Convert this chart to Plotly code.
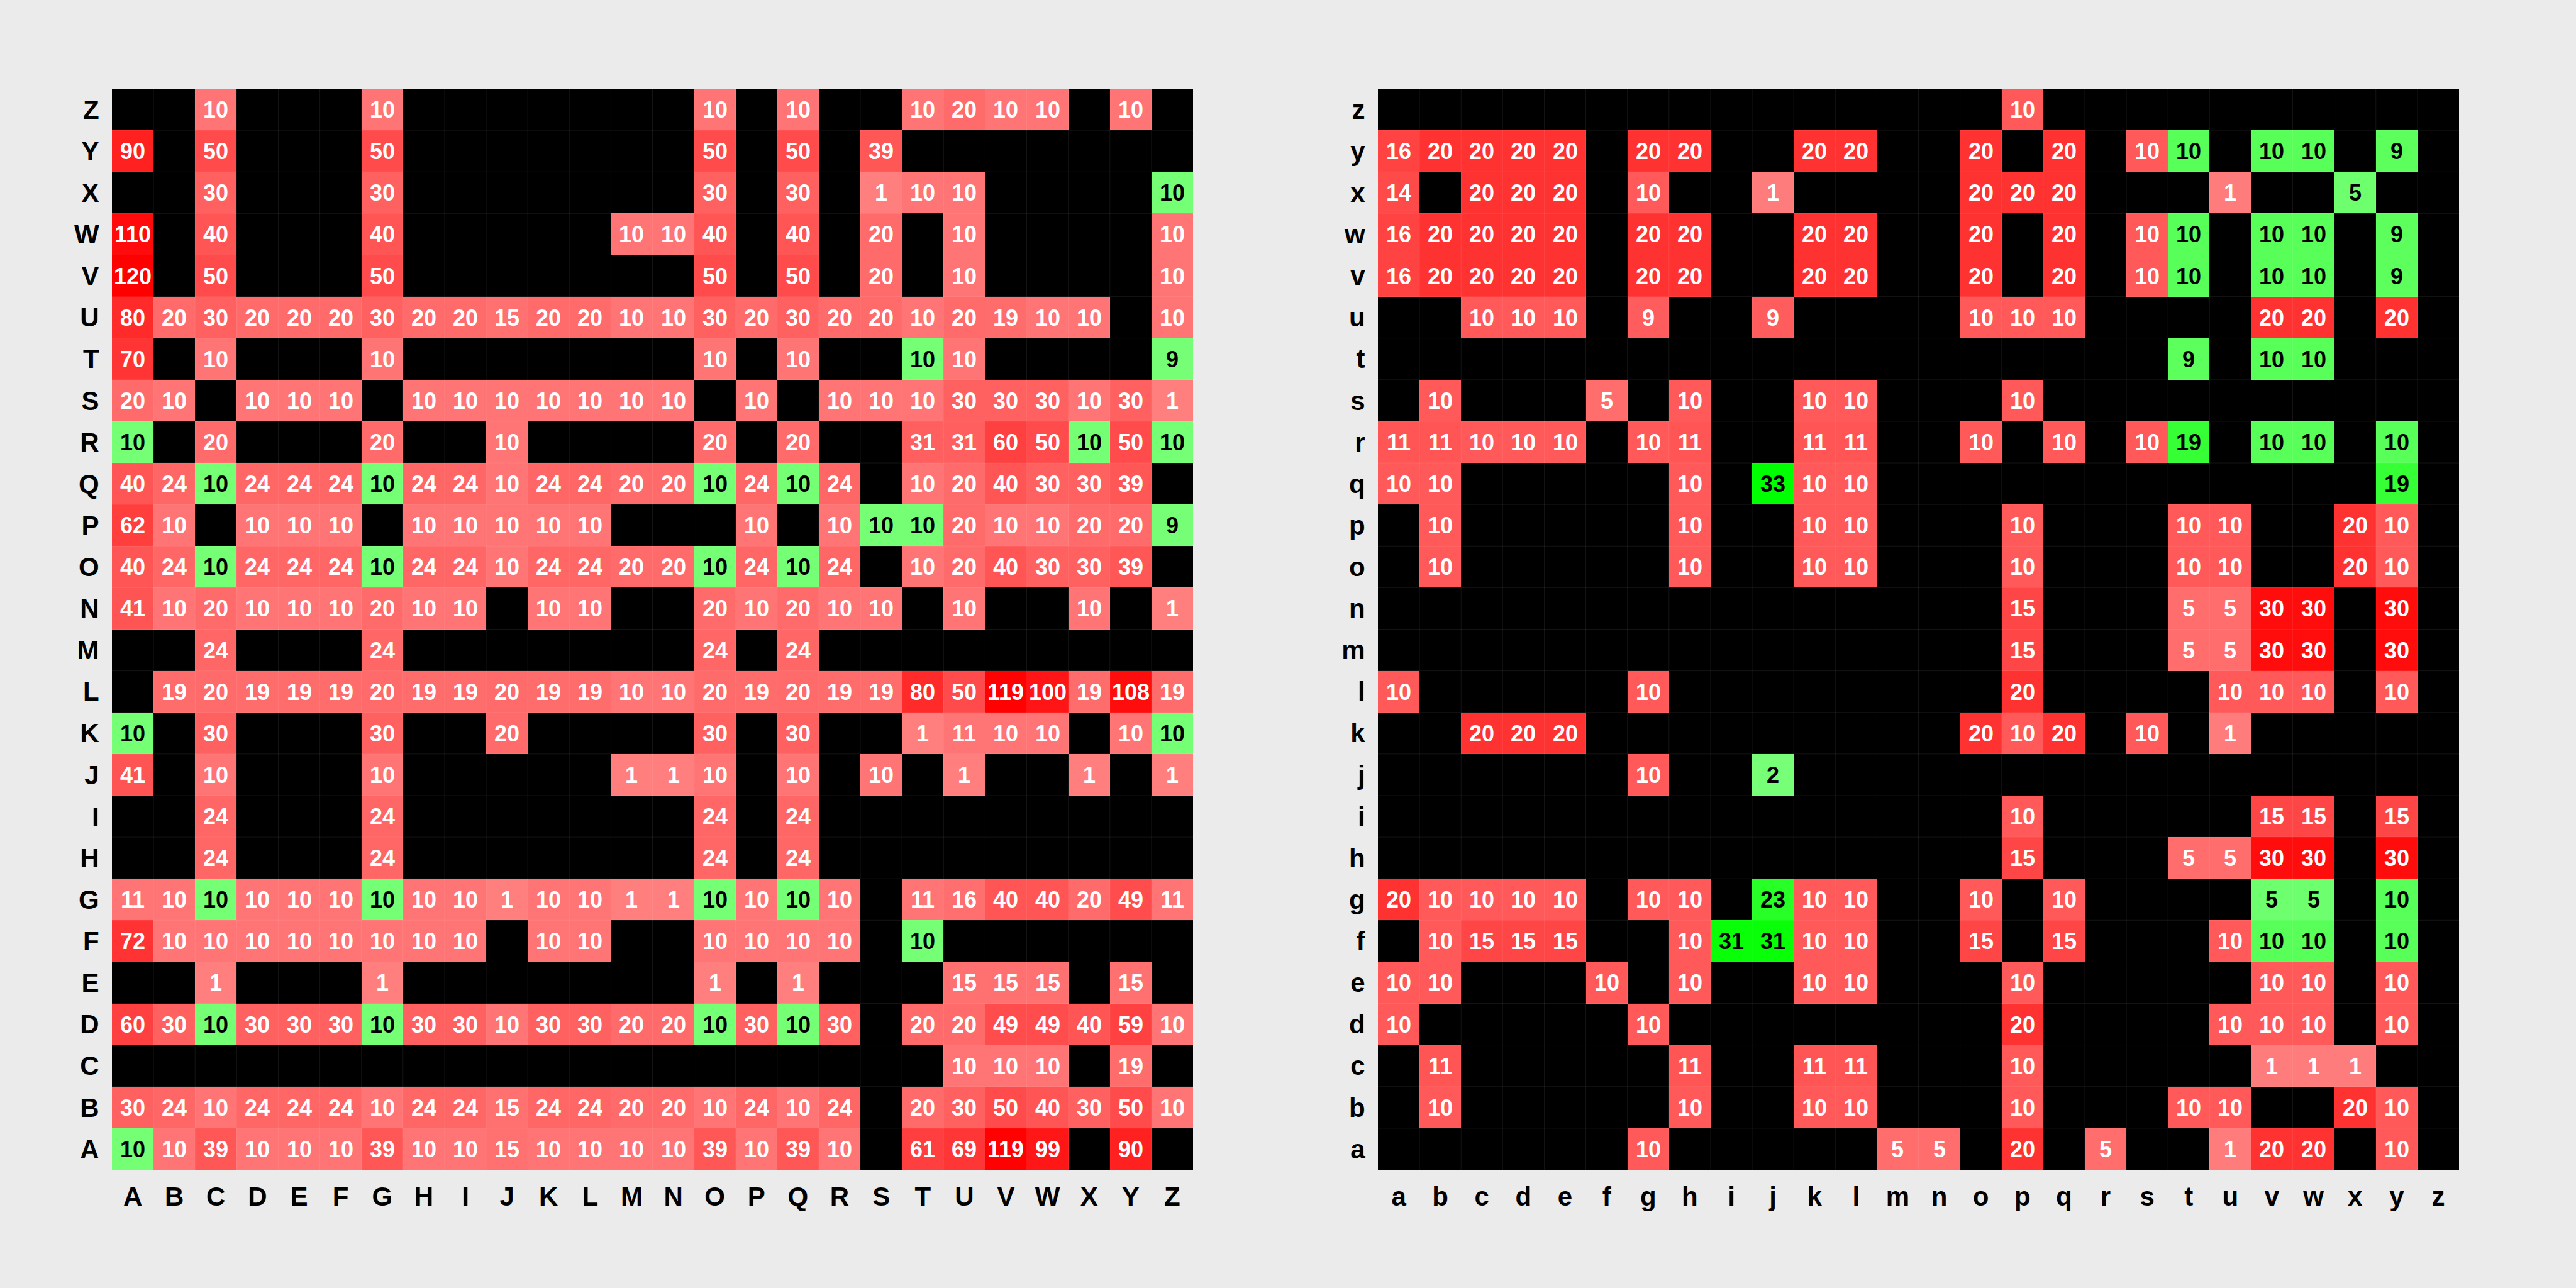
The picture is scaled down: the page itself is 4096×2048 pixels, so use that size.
import plotly.graph_objects as go

_ = None

# ---------------- Left chart (upper-case) ----------------
left_cols = list("ABCDEFGHIJKLMNOPQRSTUVWXYZ")
left_rows = list("ZYXWVUTSRQPONMLKJIHGFEDCBA")  # top to bottom

left_values = [
    # A    B    C    D    E    F    G    H    I    J    K    L    M    N    O    P    Q    R    S    T    U    V    W    X    Y    Z
    [_,   _,   10,  _,   _,   _,   10,  _,   _,   _,   _,   _,   _,   _,   10,  _,   10,  _,   _,   10,  20,  10,  10,  _,   10,  _],   # Z
    [90,  _,   50,  _,   _,   _,   50,  _,   _,   _,   _,   _,   _,   _,   50,  _,   50,  _,   39,  _,   _,   _,   _,   _,   _,   _],   # Y
    [_,   _,   30,  _,   _,   _,   30,  _,   _,   _,   _,   _,   _,   _,   30,  _,   30,  _,   1,   10,  10,  _,   _,   _,   _,   10],  # X
    [110, _,   40,  _,   _,   _,   40,  _,   _,   _,   _,   _,   10,  10,  40,  _,   40,  _,   20,  _,   10,  _,   _,   _,   _,   10],  # W
    [120, _,   50,  _,   _,   _,   50,  _,   _,   _,   _,   _,   _,   _,   50,  _,   50,  _,   20,  _,   10,  _,   _,   _,   _,   10],  # V
    [80,  20,  30,  20,  20,  20,  30,  20,  20,  15,  20,  20,  10,  10,  30,  20,  30,  20,  20,  10,  20,  19,  10,  10,  _,   10],  # U
    [70,  _,   10,  _,   _,   _,   10,  _,   _,   _,   _,   _,   _,   _,   10,  _,   10,  _,   _,   10,  10,  _,   _,   _,   _,   9],   # T
    [20,  10,  _,   10,  10,  10,  _,   10,  10,  10,  10,  10,  10,  10,  _,   10,  _,   10,  10,  10,  30,  30,  30,  10,  30,  1],   # S
    [10,  _,   20,  _,   _,   _,   20,  _,   _,   10,  _,   _,   _,   _,   20,  _,   20,  _,   _,   31,  31,  60,  50,  10,  50,  10],  # R
    [40,  24,  10,  24,  24,  24,  10,  24,  24,  10,  24,  24,  20,  20,  10,  24,  10,  24,  _,   10,  20,  40,  30,  30,  39,  _],   # Q
    [62,  10,  _,   10,  10,  10,  _,   10,  10,  10,  10,  10,  _,   _,   _,   10,  _,   10,  10,  10,  20,  10,  10,  20,  20,  9],   # P
    [40,  24,  10,  24,  24,  24,  10,  24,  24,  10,  24,  24,  20,  20,  10,  24,  10,  24,  _,   10,  20,  40,  30,  30,  39,  _],   # O
    [41,  10,  20,  10,  10,  10,  20,  10,  10,  _,   10,  10,  _,   _,   20,  10,  20,  10,  10,  _,   10,  _,   _,   10,  _,   1],   # N
    [_,   _,   24,  _,   _,   _,   24,  _,   _,   _,   _,   _,   _,   _,   24,  _,   24,  _,   _,   _,   _,   _,   _,   _,   _,   _],   # M
    [_,   19,  20,  19,  19,  19,  20,  19,  19,  20,  19,  19,  10,  10,  20,  19,  20,  19,  19,  80,  50,  119, 100, 19,  108, 19],  # L
    [10,  _,   30,  _,   _,   _,   30,  _,   _,   20,  _,   _,   _,   _,   30,  _,   30,  _,   _,   1,   11,  10,  10,  _,   10,  10],  # K
    [41,  _,   10,  _,   _,   _,   10,  _,   _,   _,   _,   _,   1,   1,   10,  _,   10,  _,   10,  _,   1,   _,   _,   1,   _,   1],   # J
    [_,   _,   24,  _,   _,   _,   24,  _,   _,   _,   _,   _,   _,   _,   24,  _,   24,  _,   _,   _,   _,   _,   _,   _,   _,   _],   # I
    [_,   _,   24,  _,   _,   _,   24,  _,   _,   _,   _,   _,   _,   _,   24,  _,   24,  _,   _,   _,   _,   _,   _,   _,   _,   _],   # H
    [11,  10,  10,  10,  10,  10,  10,  10,  10,  1,   10,  10,  1,   1,   10,  10,  10,  10,  _,   11,  16,  40,  40,  20,  49,  11],  # G
    [72,  10,  10,  10,  10,  10,  10,  10,  10,  _,   10,  10,  _,   _,   10,  10,  10,  10,  _,   10,  _,   _,   _,   _,   _,   _],   # F
    [_,   _,   1,   _,   _,   _,   1,   _,   _,   _,   _,   _,   _,   _,   1,   _,   1,   _,   _,   _,   15,  15,  15,  _,   15,  _],   # E
    [60,  30,  10,  30,  30,  30,  10,  30,  30,  10,  30,  30,  20,  20,  10,  30,  10,  30,  _,   20,  20,  49,  49,  40,  59,  10],  # D
    [_,   _,   _,   _,   _,   _,   _,   _,   _,   _,   _,   _,   _,   _,   _,   _,   _,   _,   _,   _,   10,  10,  10,  _,   19,  _],   # C
    [30,  24,  10,  24,  24,  24,  10,  24,  24,  15,  24,  24,  20,  20,  10,  24,  10,  24,  _,   20,  30,  50,  40,  30,  50,  10],  # B
    [10,  10,  39,  10,  10,  10,  39,  10,  10,  15,  10,  10,  10,  10,  39,  10,  39,  10,  _,   61,  69,  119, 99,  _,   90,  _],   # A
]

# cells drawn in green (row, column)
left_green = [
    "X:Z", "T:T", "T:Z", "R:A", "R:X", "R:Z",
    "Q:C", "Q:G", "Q:O", "Q:Q", "P:S", "P:T", "P:Z",
    "O:C", "O:G", "O:O", "O:Q", "K:A", "K:Z",
    "G:C", "G:G", "G:O", "G:Q", "F:T",
    "D:C", "D:G", "D:O", "D:Q", "A:A",
]

# ---------------- Right chart (lower-case) ----------------
right_cols = list("abcdefghijklmnopqrstuvwxyz")
right_rows = list("zyxwvutsrqponmlkjihgfedcba")  # top to bottom

right_values = [
    # a   b   c   d   e   f   g   h   i   j   k   l   m   n   o   p   q   r   s   t   u   v   w   x   y   z
    [_,  _,  _,  _,  _,  _,  _,  _,  _,  _,  _,  _,  _,  _,  _,  10, _,  _,  _,  _,  _,  _,  _,  _,  _,  _],  # z
    [16, 20, 20, 20, 20, _,  20, 20, _,  _,  20, 20, _,  _,  20, _,  20, _,  10, 10, _,  10, 10, _,  9,  _],  # y
    [14, _,  20, 20, 20, _,  10, _,  _,  1,  _,  _,  _,  _,  20, 20, 20, _,  _,  _,  1,  _,  _,  5,  _,  _],  # x
    [16, 20, 20, 20, 20, _,  20, 20, _,  _,  20, 20, _,  _,  20, _,  20, _,  10, 10, _,  10, 10, _,  9,  _],  # w
    [16, 20, 20, 20, 20, _,  20, 20, _,  _,  20, 20, _,  _,  20, _,  20, _,  10, 10, _,  10, 10, _,  9,  _],  # v
    [_,  _,  10, 10, 10, _,  9,  _,  _,  9,  _,  _,  _,  _,  10, 10, 10, _,  _,  _,  _,  20, 20, _,  20, _],  # u
    [_,  _,  _,  _,  _,  _,  _,  _,  _,  _,  _,  _,  _,  _,  _,  _,  _,  _,  _,  9,  _,  10, 10, _,  _,  _],  # t
    [_,  10, _,  _,  _,  5,  _,  10, _,  _,  10, 10, _,  _,  _,  10, _,  _,  _,  _,  _,  _,  _,  _,  _,  _],  # s
    [11, 11, 10, 10, 10, _,  10, 11, _,  _,  11, 11, _,  _,  10, _,  10, _,  10, 19, _,  10, 10, _,  10, _],  # r
    [10, 10, _,  _,  _,  _,  _,  10, _,  33, 10, 10, _,  _,  _,  _,  _,  _,  _,  _,  _,  _,  _,  _,  19, _],  # q
    [_,  10, _,  _,  _,  _,  _,  10, _,  _,  10, 10, _,  _,  _,  10, _,  _,  _,  10, 10, _,  _,  20, 10, _],  # p
    [_,  10, _,  _,  _,  _,  _,  10, _,  _,  10, 10, _,  _,  _,  10, _,  _,  _,  10, 10, _,  _,  20, 10, _],  # o
    [_,  _,  _,  _,  _,  _,  _,  _,  _,  _,  _,  _,  _,  _,  _,  15, _,  _,  _,  5,  5,  30, 30, _,  30, _],  # n
    [_,  _,  _,  _,  _,  _,  _,  _,  _,  _,  _,  _,  _,  _,  _,  15, _,  _,  _,  5,  5,  30, 30, _,  30, _],  # m
    [10, _,  _,  _,  _,  _,  10, _,  _,  _,  _,  _,  _,  _,  _,  20, _,  _,  _,  _,  10, 10, 10, _,  10, _],  # l
    [_,  _,  20, 20, 20, _,  _,  _,  _,  _,  _,  _,  _,  _,  20, 10, 20, _,  10, _,  1,  _,  _,  _,  _,  _],  # k
    [_,  _,  _,  _,  _,  _,  10, _,  _,  2,  _,  _,  _,  _,  _,  _,  _,  _,  _,  _,  _,  _,  _,  _,  _,  _],  # j
    [_,  _,  _,  _,  _,  _,  _,  _,  _,  _,  _,  _,  _,  _,  _,  10, _,  _,  _,  _,  _,  15, 15, _,  15, _],  # i
    [_,  _,  _,  _,  _,  _,  _,  _,  _,  _,  _,  _,  _,  _,  _,  15, _,  _,  _,  5,  5,  30, 30, _,  30, _],  # h
    [20, 10, 10, 10, 10, _,  10, 10, _,  23, 10, 10, _,  _,  10, _,  10, _,  _,  _,  _,  5,  5,  _,  10, _],  # g
    [_,  10, 15, 15, 15, _,  _,  10, 31, 31, 10, 10, _,  _,  15, _,  15, _,  _,  _,  10, 10, 10, _,  10, _],  # f
    [10, 10, _,  _,  _,  10, _,  10, _,  _,  10, 10, _,  _,  _,  10, _,  _,  _,  _,  _,  10, 10, _,  10, _],  # e
    [10, _,  _,  _,  _,  _,  10, _,  _,  _,  _,  _,  _,  _,  _,  20, _,  _,  _,  _,  10, 10, 10, _,  10, _],  # d
    [_,  11, _,  _,  _,  _,  _,  11, _,  _,  11, 11, _,  _,  _,  10, _,  _,  _,  _,  _,  1,  1,  1,  _,  _],  # c
    [_,  10, _,  _,  _,  _,  _,  10, _,  _,  10, 10, _,  _,  _,  10, _,  _,  _,  10, 10, _,  _,  20, 10, _],  # b
    [_,  _,  _,  _,  _,  _,  10, _,  _,  _,  _,  _,  5,  5,  _,  20, _,  5,  _,  _,  1,  20, 20, _,  10, _],  # a
]

right_green = [
    "y:t", "y:v", "y:w", "y:y", "x:x",
    "w:t", "w:v", "w:w", "w:y", "v:t", "v:v", "v:w", "v:y",
    "t:t", "t:v", "t:w", "r:t", "r:v", "r:w", "r:y",
    "q:j", "q:y", "j:j", "g:j", "g:v", "g:w", "g:y",
    "f:i", "f:j", "f:v", "f:w", "f:y",
]

# ---------------- styling ----------------
BG = "#ebebeb"
FONT = "Liberation Sans, Arial, sans-serif"
CELL_FONT_SIZE = 36
TICK_FONT_SIZE = 42

W, H = 4096, 2048
left_dom_x = [178 / W, 1897 / W]
right_dom_x = [2191 / W, 3910 / W]
dom_y = [1 - 1860 / H, 1 - 141 / H]


def split(values, rows, cols, green):
    gset = set(green)
    red_z, red_t, grn_z, grn_t = [], [], [], []
    for r, row in zip(rows, values):
        rz, rt, gz, gt = [], [], [], []
        for c, v in zip(cols, row):
            is_g = f"{r}:{c}" in gset
            if v is None:
                rz.append(None); rt.append(""); gz.append(None); gt.append("")
            elif is_g:
                rz.append(None); rt.append(""); gz.append(v); gt.append(str(v))
            else:
                rz.append(v); rt.append(str(v)); gz.append(None); gt.append("")
        red_z.append(rz); red_t.append(rt); grn_z.append(gz); grn_t.append(gt)
    return red_z, red_t, grn_z, grn_t


fig = go.Figure()

panels = [
    (left_values, left_rows, left_cols, left_green, "x", "y"),
    (right_values, right_rows, right_cols, right_green, "x2", "y2"),
]

for values, rows, cols, green, xa, ya in panels:
    vmax = max(v for row in values for v in row if v is not None)
    red_z, red_t, grn_z, grn_t = split(values, rows, cols, green)
    xs = list(range(len(cols)))
    ys = list(range(len(rows)))
    fig.add_trace(go.Heatmap(
        z=red_z, x=xs, y=ys, text=red_t, texttemplate="%{text}",
        textfont=dict(family=FONT, size=CELL_FONT_SIZE, color="white", weight="bold"),
        colorscale=[[0, "#ff8080"], [1, "#ff0000"]], zmin=0, zmax=vmax,
        showscale=False, hoverinfo="skip", xaxis=xa, yaxis=ya,
    ))
    fig.add_trace(go.Heatmap(
        z=grn_z, x=xs, y=ys, text=grn_t, texttemplate="%{text}",
        textfont=dict(family=FONT, size=CELL_FONT_SIZE, color="black", weight="bold"),
        colorscale=[[0, "#80ff80"], [1, "#00ff00"]], zmin=0, zmax=vmax,
        showscale=False, hoverinfo="skip", xaxis=xa, yaxis=ya,
    ))
    # thin cell separators
    for k in range(1, len(cols)):
        fig.add_shape(type="line", xref=xa, yref=f"{ya} domain", x0=k - 0.5, x1=k - 0.5,
                      y0=0, y1=1, line=dict(color="rgba(255,255,255,0.08)", width=1), layer="above")
    for k in range(1, len(rows)):
        fig.add_shape(type="line", xref=f"{xa} domain", yref=ya, y0=k - 0.5, y1=k - 0.5,
                      x0=0, x1=1, line=dict(color="rgba(255,255,255,0.08)", width=1), layer="above")

tickfont = dict(family=FONT, size=TICK_FONT_SIZE, color="black", weight="bold")


def xaxis(domain, cols, anchor):
    return dict(domain=domain, anchor=anchor, range=[-0.5, len(cols) - 0.5],
                tickmode="array", tickvals=list(range(len(cols))), ticktext=cols,
                ticks="outside", ticklen=6, tickcolor="rgba(0,0,0,0)",
                showgrid=False, zeroline=False, showline=False, tickfont=tickfont,
                fixedrange=True)


def yaxis(rows, anchor):
    return dict(domain=dom_y, anchor=anchor, range=[len(rows) - 0.5, -0.5],
                tickmode="array", tickvals=list(range(len(rows))), ticktext=rows,
                ticks="outside", ticklen=11, tickcolor="rgba(0,0,0,0)",
                showgrid=False, zeroline=False, showline=False, tickfont=tickfont,
                fixedrange=True)


fig.update_layout(
    width=W, height=H,
    margin=dict(l=0, r=0, t=0, b=0),
    paper_bgcolor=BG, plot_bgcolor="black",
    xaxis=xaxis(left_dom_x, left_cols, "y"),
    yaxis=yaxis(left_rows, "x"),
    xaxis2=xaxis(right_dom_x, right_cols, "y2"),
    yaxis2=yaxis(right_rows, "x2"),
    showlegend=False,
)

fig.write_html("out.html", config={"displayModeBar": False})
